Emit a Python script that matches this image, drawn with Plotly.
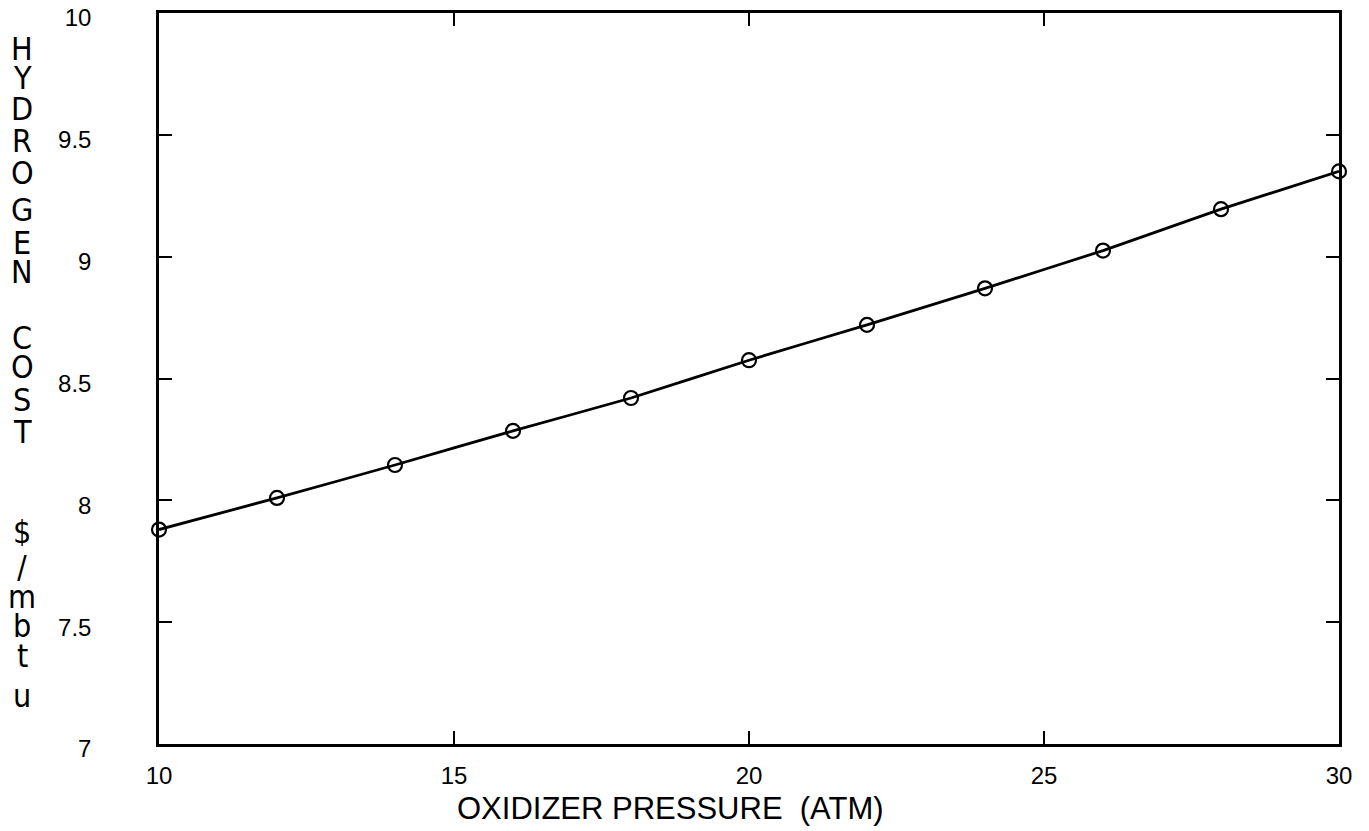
import plotly.graph_objects as go

# ---- data ----
pressure_atm = [10, 12, 14, 16, 18, 20, 22, 24, 26, 28, 30]
hydrogen_cost = [7.88, 8.01, 8.145, 8.285, 8.42, 8.575, 8.72, 8.87, 9.025, 9.195, 9.35]

x_tick_vals = [10, 15, 20, 25, 30]
x_tick_text = ["10", "15", "20", "25", "30"]
y_tick_vals = [7, 7.5, 8, 8.5, 9, 9.5, 10]
y_tick_text = ["7", "7.5", "8", "8.5", "9", "9.5", "10"]

x_title = "OXIDIZER PRESSURE  (ATM)"
y_title_letters = list("HYDROGEN") + list("COST") + list("$/mbtu")

# ---- layout geometry (pixels) ----
W, H = 1369, 831
L, R, T, B = 159, 30, 13, 87
plot_h = H - T - B
plot_w = W - L - R

FONT = "Liberation Sans Narrow, DejaVu Sans Condensed, Liberation Sans, Arial, sans-serif"
TICKFONT = "Liberation Sans, Arial, sans-serif"

fig = go.Figure()
fig.add_trace(go.Scatter(
    x=pressure_atm, y=hydrogen_cost,
    mode="lines+markers",
    line=dict(color="black", width=2.8, shape="spline", smoothing=0.3),
    marker=dict(symbol="circle-open", size=14, color="black", line=dict(width=2.2, color="black")),
    cliponaxis=False,
    showlegend=False,
))

axis_common = dict(
    showline=True, linecolor="black", linewidth=2.5, mirror="ticks",
    ticks="inside", tickcolor="black", tickwidth=2, ticklen=13,
    showgrid=False, zeroline=False, automargin=False,
    ticklabeloverflow="allow",
    tickfont=dict(family=TICKFONT, size=24, color="black"),
)

fig.update_xaxes(range=[10, 30], tickvals=x_tick_vals, ticktext=x_tick_text,
                 ticklabelstandoff=8, **axis_common)
fig.update_yaxes(range=[7, 10], tickvals=y_tick_vals, ticktext=y_tick_text,
                 ticklabelstandoff=60, ticklabelshift=5, **axis_common)

annotations = []
# x-axis title
annotations.append(dict(
    text=x_title, xref="paper", yref="paper",
    x=(670 - L) / plot_w, y=-(808 - (T + plot_h)) / plot_h,
    xanchor="center", yanchor="middle", showarrow=False,
    font=dict(family=TICKFONT, size=31, color="black"),
))
# y-axis title: stacked upright letters
letter_y_px = [49, 78, 109, 141, 173, 210, 243, 272,
               338, 367, 400, 432,
               532, 567, 597, 626, 656, 696]
for ch, py in zip(y_title_letters, letter_y_px):
    annotations.append(dict(
        text=ch, xref="paper", yref="paper",
        x=(22 - L) / plot_w, y=(T + plot_h - py) / plot_h,
        xanchor="center", yanchor="middle", showarrow=False,
        height=28,
        font=dict(family=FONT, size=32, color="black"),
    ))

fig.update_layout(
    width=W, height=H,
    margin=dict(l=L, r=R, t=T, b=B, autoexpand=False),
    paper_bgcolor="white", plot_bgcolor="white",
    annotations=annotations,
)

fig.write_html("out.html")
